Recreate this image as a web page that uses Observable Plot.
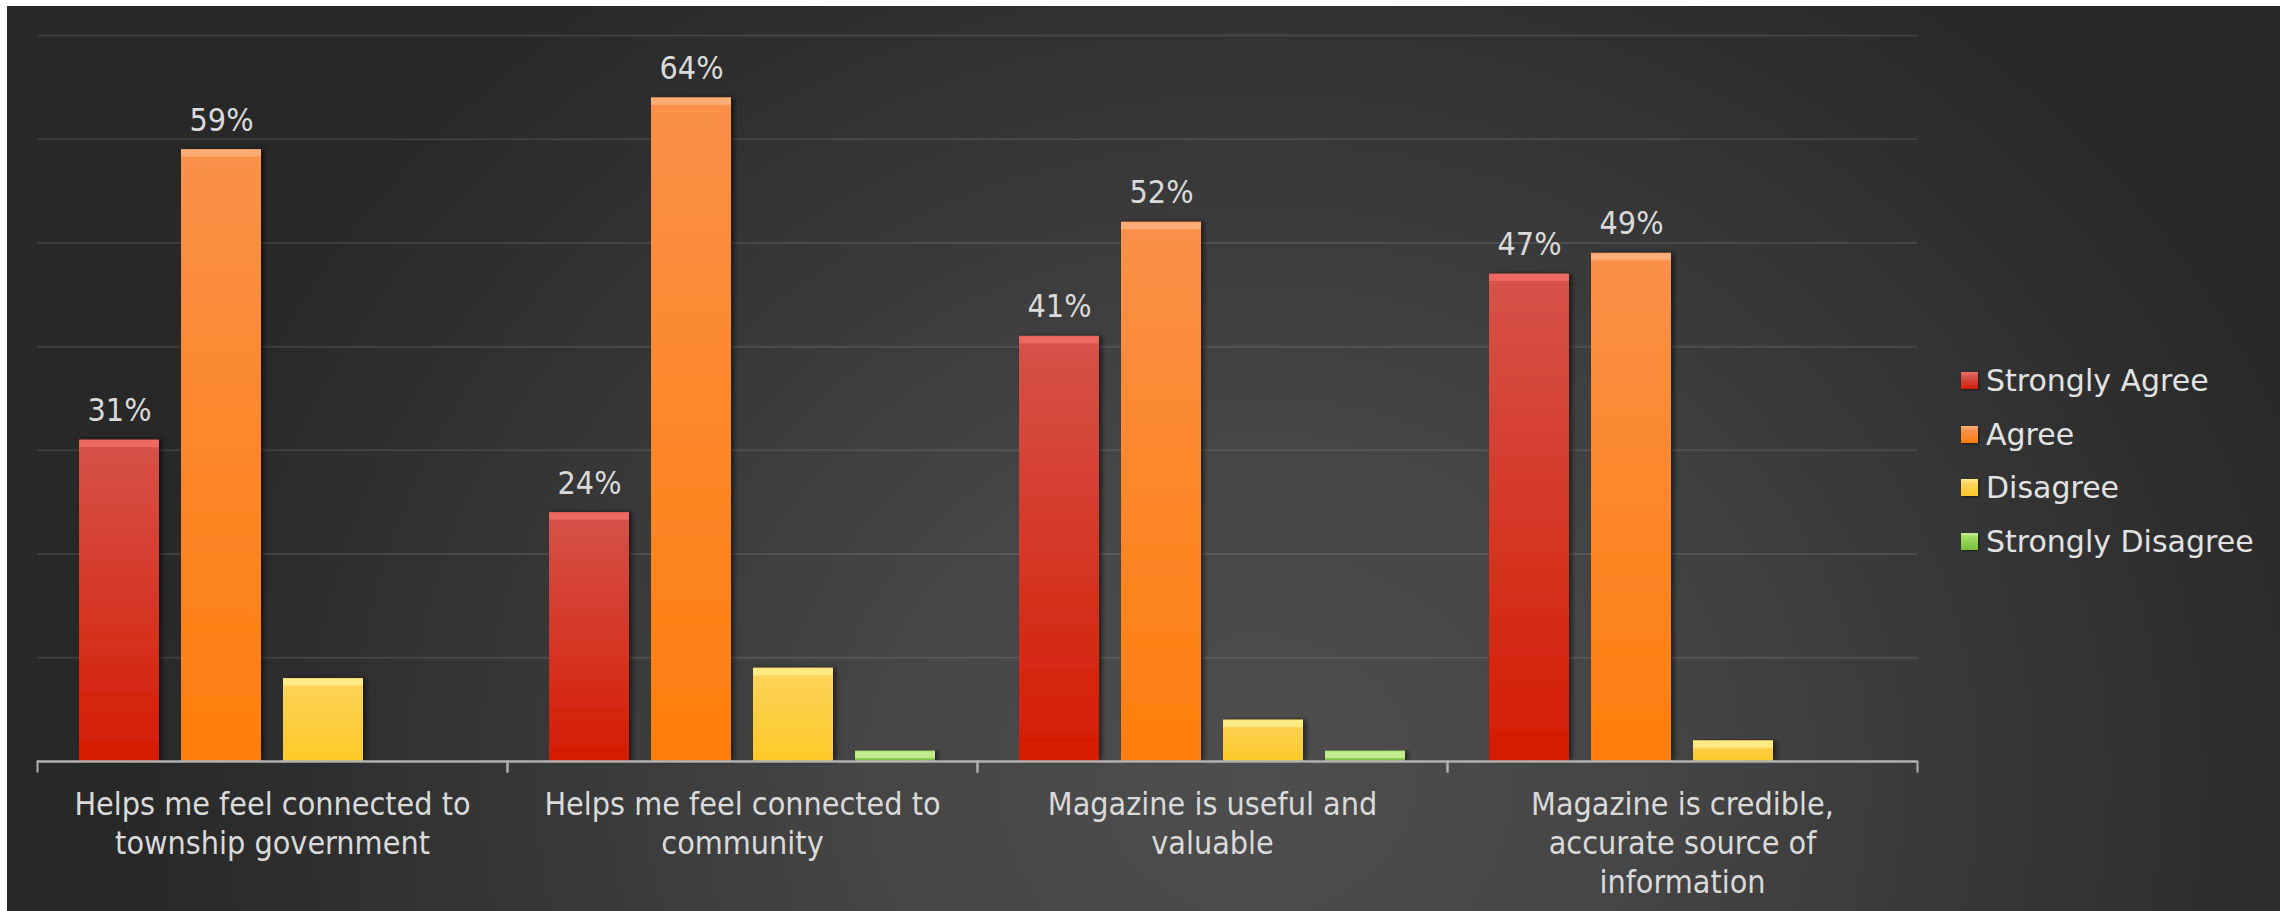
<!DOCTYPE html>
<html>
<head>
<meta charset="utf-8">
<script src="https://cdn.jsdelivr.net/npm/d3@7"></script>
<script src="https://cdn.jsdelivr.net/npm/@observablehq/plot@0.6"></script>
<style>
  html, body { margin: 0; padding: 0; background: #ffffff; width: 2287px; height: 911px; overflow: hidden; }
  #bg { position: absolute; left: 7px; top: 6px; width: 2273px; height: 905px;
        background: radial-gradient(ellipse 50% 110% at 55% 85%, #4e4e4e 0%, #454545 35%, #303030 80%, #282828 100%); }
  #chart { position: absolute; left: 0; top: 0; }
  #legend { position: absolute; left: 1961px; top: 354px; font-family: "DejaVu Sans", sans-serif; font-size: 30px; color: #e2e2e2; }
  .lg-row { height: 53.5px; display: flex; align-items: center; white-space: nowrap; }
  .lg-sw { width: 17px; height: 17px; margin-right: 8px; box-shadow: 1px 1px 2px rgba(0,0,0,0.5); }
</style>
</head>
<body>
<div id="bg"></div>
<div id="chart"></div>
<div id="legend"></div>
<script>
// ---- data ----
const categories = [
  "Helps me feel connected to township government",
  "Helps me feel connected to community",
  "Magazine is useful and valuable",
  "Magazine is credible, accurate source of information"
];
const categoryLabels = [
  "Helps me feel connected to\ntownship government",
  "Helps me feel connected to\ncommunity",
  "Magazine is useful and\nvaluable",
  "Magazine is credible,\naccurate source of\ninformation"
];
const series = ["Strongly Agree", "Agree", "Disagree", "Strongly Disagree"];
const stronglyAgree = [31, 24, 41, 47];
const agree = [59, 64, 52, 49];
const disagree = [8, 9, 4, 2];
const stronglyDisagree = [0, 1, 1, 0];
const labeledSeries = ["Strongly Agree", "Agree"];
const yTicks = [0, 10, 20, 30, 40, 50, 60, 70];

// ---- styles ----
const seriesTop = ["#d5534a", "#fa9049", "#fdd35c", "#9ad95e"];
const seriesBottom = ["#d51c02", "#fe7e0b", "#fdca28", "#7cc03d"];
const seriesHighlight = ["#ee6d64", "#fdb07a", "#ffec8a", "#c5ee94"];
const narrowFont = "'Liberation Sans Narrow', 'DejaVu Sans Condensed', 'Liberation Sans', sans-serif";

const valuesBySeries = [stronglyAgree, agree, disagree, stronglyDisagree];
const rows = [];
series.forEach((s, si) => {
  categories.forEach((c, ci) => {
    rows.push({category: c, series: s, value: valuesBySeries[si][ci]});
  });
});

const marks = [
  Plot.ruleY(yTicks.filter(t => t > 0), {stroke: "white", strokeOpacity: 0.1, strokeWidth: 2})
];
series.forEach((s, i) => {
  const d = rows.filter(r => r.series === s && r.value > 0);
  marks.push(Plot.barY(d, {fx: "category", x: "series", y: "value", fill: `url(#grad${i})`}));
  marks.push(Plot.tickY(d, {fx: "category", x: "series", y: "value", stroke: seriesHighlight[i], strokeWidth: 7, dy: 3.5, strokeOpacity: 0.9}));
});
marks.push(
  Plot.ruleY([0], {stroke: "#b0b0b0", strokeWidth: 2.5}),
  Plot.frame({anchor: "left", stroke: "#b0b0b0", strokeWidth: 2, insetTop: 726, insetBottom: -10}),
  Plot.frame({anchor: "right", stroke: "#b0b0b0", strokeWidth: 2, insetTop: 726, insetBottom: -10}),
  Plot.text(rows.filter(r => labeledSeries.includes(r.series)), {
    fx: "category", x: "series", y: "value", text: d => d.value + "%",
    lineAnchor: "bottom", dy: -19, fill: "#dadada", fontSize: 32,
    fontFamily: narrowFont
  }),
  Plot.text(categories, {
    fx: d => d, text: d => categoryLabels[categories.indexOf(d)],
    frameAnchor: "bottom", lineAnchor: "top", dy: 26, lineHeight: 1.22,
    fill: "#dadada", fontSize: 32,
    fontFamily: narrowFont
  })
);

const plot = Plot.plot({
  width: 2287,
  height: 911,
  marginLeft: 36,
  marginRight: 370,
  marginTop: 35,
  marginBottom: 150,
  style: {background: "transparent", color: "#dadada", fontFamily: "'DejaVu Sans', sans-serif", fontSize: "28px", overflow: "visible"},
  fx: {domain: categories, padding: 0, axis: null},
  x: {domain: series, paddingInner: 0.216, paddingOuter: 0.41, axis: null},
  y: {domain: [0, 70], axis: null},
  marks
});

const svg = d3.select(plot);
const defs = svg.insert("defs", ":first-child");
series.forEach((s, i) => {
  const g = defs.append("linearGradient").attr("id", `grad${i}`).attr("x1", 0).attr("y1", 0).attr("x2", 0).attr("y2", 1);
  g.append("stop").attr("offset", "0%").attr("stop-color", seriesTop[i]);
  g.append("stop").attr("offset", "100%").attr("stop-color", seriesBottom[i]);
});
const f = defs.append("filter").attr("id", "shadow").attr("x", "-20%").attr("y", "-5%").attr("width", "140%").attr("height", "110%");
f.append("feDropShadow").attr("dx", 3).attr("dy", 0).attr("stdDeviation", 2.5).attr("flood-color", "#000").attr("flood-opacity", 0.55);
svg.selectAll("g[aria-label='bar'] rect").attr("filter", "url(#shadow)");

document.getElementById("chart").appendChild(plot);

// ---- legend ----
const legend = d3.select("#legend");
series.forEach((s, i) => {
  const row = legend.append("div").attr("class", "lg-row");
  row.append("div").attr("class", "lg-sw")
    .style("background", `linear-gradient(to bottom, ${seriesHighlight[i]} 0%, ${seriesTop[i]} 30%, ${seriesBottom[i]} 100%)`);
  row.append("span").text(s);
});
</script>
</body>
</html>
